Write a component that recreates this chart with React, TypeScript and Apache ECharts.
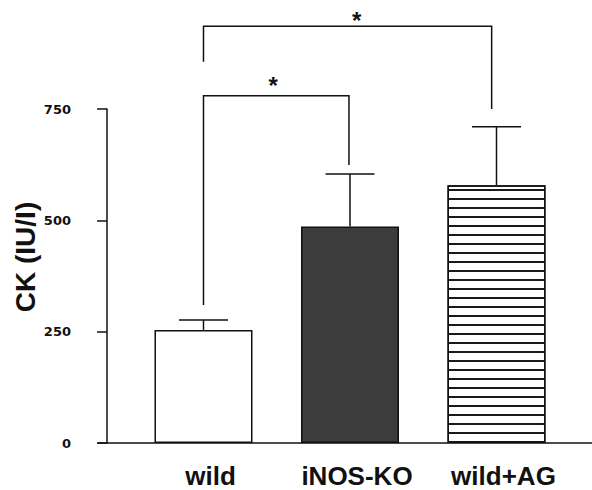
import React, { useEffect, useRef } from "react";
import * as echarts from "echarts";

// ---- data ----
const categories = ["wild", "iNOS-KO", "wild+AG"];
const categoryPositions = [0, 1, 2];
const meanValues = [254, 486, 579];
const errorTopValues = [276, 604, 710];
const yTickInterval = 250;
const yMin = 0;
const yMax = 750;

// significance brackets
const bracketLeftX = [0, 0];
const bracketRightX = [0.993, 1.967];
const bracketTopY = [780, 936];
const bracketLeftEndY = [310, 856];
const bracketRightEndY = [624, 750];
const starX = [0.476, 1.046];
const starY = [814, 959];
const starLabels = ["*", "*"];

const yTitle = "CK (IU/I)";

export default function App() {
  const ref = useRef<HTMLDivElement>(null);

  useEffect(() => {
    document.body.style.margin = "0";
    const chart = echarts.init(ref.current!, null, { renderer: "svg" });

    const barColors = ["#ffffff", "#3c3c3c", "#ffffff"];
    const barData = categoryPositions.map((x, i) => ({
      value: [x, meanValues[i]],
      itemStyle: {
        color: barColors[i],
        borderColor: "#111",
        borderWidth: 1.5,
        decal:
          i === 2
            ? {
                symbol: "rect",
                symbolSize: 1,
                color: "#1a1a1a",
                dashArrayX: [1, 0],
                dashArrayY: [1.5, 7],
                rotation: 0,
              }
            : undefined,
      },
    }));

    const errData = categoryPositions.map((x, i) => [x, meanValues[i], errorTopValues[i]]);
    const bracketData = bracketLeftX.map((x, i) => [
      x,
      bracketRightX[i],
      bracketTopY[i],
      bracketLeftEndY[i],
      bracketRightEndY[i],
    ]);
    const starData = starX.map((x, i) => [x, starY[i]]);

    const lineStyle = { stroke: "#111", lineWidth: 1.5 };

    const option: any = {
      animation: false,
      backgroundColor: "#ffffff",
      grid: { left: 98, right: 0, top: 109, bottom: 47, outerBoundsMode: "none" },
      xAxis: {
        type: "value",
        min: -0.7201,
        max: 2.6519,
        splitLine: { show: false },
        axisTick: { show: false },
        axisLine: { show: true, onZero: false, lineStyle: { color: "#111", width: 1.5 } },
        axisLabel: {
          customValues: categoryPositions,
          formatter: (v: number) => categories[Math.round(v)] ?? "",
          fontFamily: "Liberation Sans",
          fontWeight: "bold",
          fontSize: 26,
          color: "#111",
          margin: 20,
          padding: [0, 0, 0, 14],
          verticalAlign: "top",
        },
      },
      yAxis: {
        type: "value",
        min: yMin,
        max: yMax,
        interval: yTickInterval,
        offset: -9,
        splitLine: { show: false },
        axisLine: { show: true, onZero: false, lineStyle: { color: "#111", width: 1.5 } },
        axisTick: { show: true, length: 10, lineStyle: { color: "#111", width: 1.5 } },
        axisLabel: {
          fontFamily: "DejaVu Sans",
          fontWeight: "bold",
          fontSize: 13,
          color: "#111",
          margin: 36,
          padding: [0, 0, 6, 0],
        },
      },
      graphic: [
        {
          type: "text",
          x: 25,
          y: 257,
          rotation: Math.PI / 2,
          style: {
            text: yTitle,
            font: "bold 28px 'Liberation Sans', Arial, sans-serif",
            fill: "#111",
            align: "center",
            verticalAlign: "middle",
          },
        },
      ],
      series: [
        {
          type: "bar",
          data: barData,
          barWidth: 98,
          z: 2,
        },
        {
          type: "custom",
          data: errData,
          z: 3,
          clip: false,
          encode: { x: 0, y: [1, 2] },
          renderItem: (_p: any, api: any) => {
            const x = api.value(0);
            const a = api.coord([x, api.value(1)]);
            const b = api.coord([x, api.value(2)]);
            return {
              type: "group",
              children: [
                { type: "line", shape: { x1: a[0], y1: a[1], x2: b[0], y2: b[1] }, style: lineStyle },
                { type: "line", shape: { x1: b[0] - 24.5, y1: b[1], x2: b[0] + 24.5, y2: b[1] }, style: lineStyle },
              ],
            };
          },
        },
        {
          type: "custom",
          data: bracketData,
          z: 3,
          clip: false,
          encode: { x: [0, 1], y: [2, 3, 4] },
          renderItem: (_p: any, api: any) => {
            const x1 = api.value(0);
            const x2 = api.value(1);
            const yTop = api.value(2);
            const pL = api.coord([x1, api.value(3)]);
            const pTL = api.coord([x1, yTop]);
            const pTR = api.coord([x2, yTop]);
            const pR = api.coord([x2, api.value(4)]);
            return {
              type: "polyline",
              shape: { points: [pL, pTL, pTR, pR] },
              style: { ...lineStyle, fill: "none" },
            };
          },
        },
        {
          type: "custom",
          data: starData,
          z: 4,
          clip: false,
          encode: { x: 0, y: 1 },
          renderItem: (p: any, api: any) => {
            const c = api.coord([api.value(0), api.value(1)]);
            return {
              type: "text",
              x: c[0],
              y: c[1] + 5,
              style: {
                text: starLabels[p.dataIndex],
                font: "bold 24px 'Liberation Sans', Arial, sans-serif",
                fill: "#111",
                align: "center",
                verticalAlign: "middle",
              },
            };
          },
        },
      ],
    };

    chart.setOption(option);
    return () => chart.dispose();
  }, []);

  return (
    <div
      ref={ref}
      style={{ position: "absolute", left: 0, top: 0, width: 592, height: 490 }}
    />
  );
}
